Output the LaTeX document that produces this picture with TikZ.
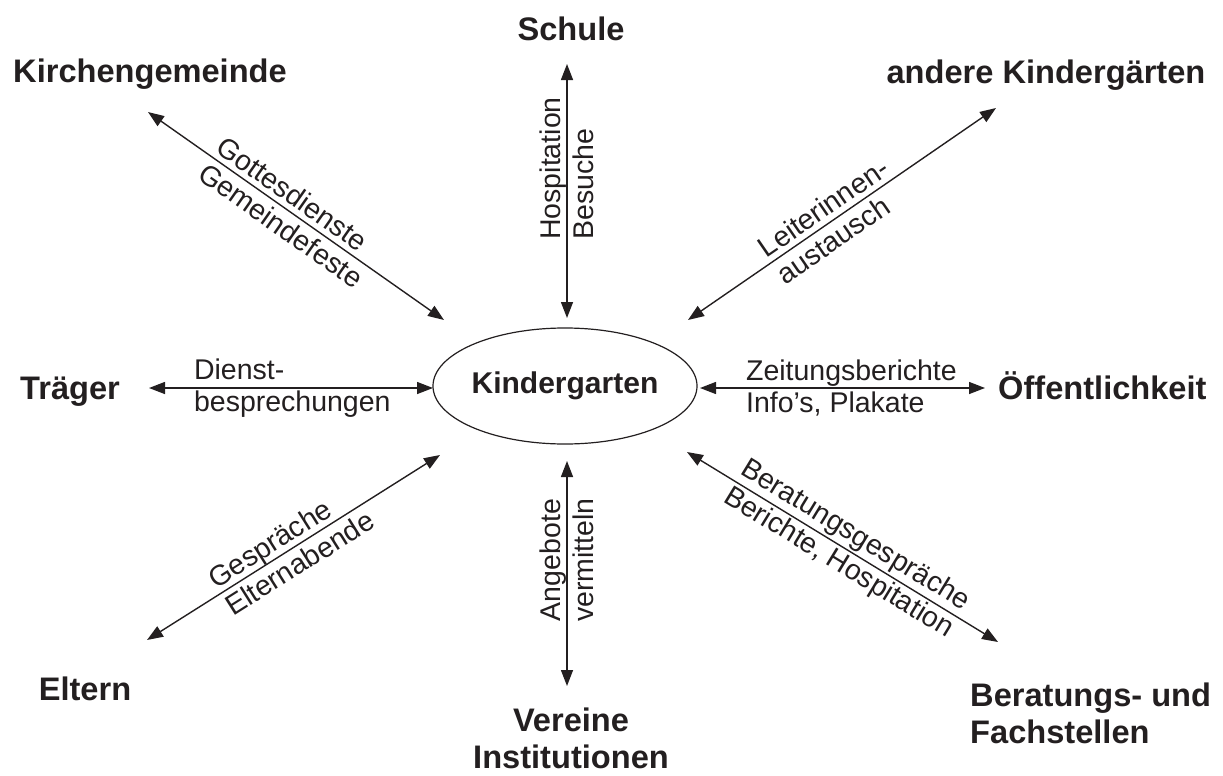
\documentclass[tikz,border=0pt]{standalone}
\usepackage{fontspec}
\setmainfont{Liberation Sans}
\usetikzlibrary{arrows.meta,shapes.geometric,calc}
\definecolor{ink}{HTML}{231F20}
\begin{document}
\begin{tikzpicture}[x=1pt,y=1pt,
  lbl/.style={font=\fontsize{32.6}{37}\selectfont\bfseries, text=ink, inner sep=0},
  elbl/.style={font=\fontsize{28.5}{32.5}\selectfont, text=ink, inner sep=0},
  link/.style={draw=ink, line width=1.4pt, {Triangle[length=16pt,width=12pt]}-{Triangle[length=16pt,width=12pt]}}]
\useasboundingbox (0,0) rectangle (1223,-776);
% outer nodes
\node[lbl,anchor=base] (schule) at (571,-41) {Schule};
\node[lbl,anchor=base] (kirche) at (150,-82) {Kirchengemeinde};
\node[lbl,anchor=base] (andere) at (1046,-83) {andere Kindergärten};
\node[lbl,anchor=base west] (traeger) at (20,-399) {Träger};
\node[lbl,anchor=base west] (oeff) at (998,-399) {Öffentlichkeit};
\node[lbl,anchor=base] (eltern) at (85,-700) {Eltern};
\node[lbl,align=center,anchor=base] (vereine) at (571,-768) {Vereine\\Institutionen};
\node[lbl,align=left,anchor=base west] (beratung) at (970,-743) {Beratungs- und\\Fachstellen};
% centre
\node[ellipse,draw=ink,line width=1.2pt,minimum width=240pt,minimum height=116pt,inner sep=0,
  font=\fontsize{30}{36}\selectfont\bfseries,text=ink] (kg) at (565,-386) {Kindergarten};
% connector ends
\coordinate (s1) at (567,-64);  \coordinate (s2) at (567,-318);
\coordinate (v1) at (567,-461); \coordinate (v2) at (567,-686);
\coordinate (t1) at (149,-388); \coordinate (t2) at (433,-388);
\coordinate (o1) at (700,-388); \coordinate (o2) at (985,-388);
\coordinate (k1) at (148,-112); \coordinate (k2) at (444,-320);
\coordinate (a1) at (688,-320); \coordinate (a2) at (996,-108);
\coordinate (e1) at (440,-455); \coordinate (e2) at (147,-640);
\coordinate (b1) at (687,-452); \coordinate (b2) at (998,-642);
% connectors
\draw[link] (s1) -- (s2);
\draw[link] (v1) -- (v2);
\draw[link] (t1) -- (t2);
\draw[link] (o1) -- (o2);
\draw[link] (k1) -- (k2);
\draw[link] (a1) -- (a2);
\draw[link] (e1) -- (e2);
\draw[link] (b1) -- (b2);
% connector labels
\node[elbl,align=left,anchor=west,rotate=90] (hosp) at ($(s2)!0.307!(s1)$) {Hospitation\\Besuche};
\node[elbl,align=center,rotate=90] (angebote) at ($(v2)!0.56!(v1)$) {Angebote\\vermitteln};
\node[elbl,align=left,anchor=west] (dienst) at ($(t1)!0.158!(t2)$) {Dienst-\\besprechungen};
\node[elbl,align=left,anchor=west] (zeitung) at ($(o1)!0.161!(o2)$) {Zeitungsberichte\\Info’s, Plakate};
\node[elbl,align=left,anchor=west,rotate=-35.1] (gottes) at ($(k1)!0.213!(k2)$) {Gottesdienste\\Gemeindefeste};
\node[elbl,align=left,anchor=west,rotate=34.5] (leiter) at ($(a1)!0.267!(a2)$) {Leiterinnen-\\austausch};
\node[elbl,align=left,anchor=west,rotate=32.3] (gespr) at ($(e2)!0.246!(e1)$) {Gespräche\\Elternabende};
\node[elbl,align=left,anchor=west,rotate=-31.4] (berat) at ($(b1)!0.152!(b2)$) {Beratungsgespräche\\Berichte, Hospitation};
\end{tikzpicture}
\end{document}
